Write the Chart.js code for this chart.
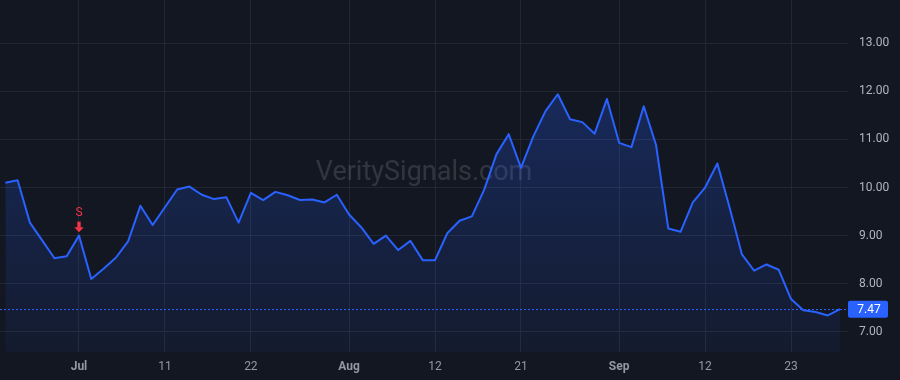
<!doctype html>
<html lang="en">
<head>
<meta charset="utf-8">
<style>
    body { margin: 0; background: #131722; }
    #wrap { width: 900px; height: 380px; position: relative; }
</style>
</head>
<body>
    <div id="wrap">
        <canvas id="myChart"></canvas>
    </div>

    <script src="https://cdn.jsdelivr.net/npm/chart.js"></script>

    <script>
    // trading days, Jun 21 -> Sep 27
    const dates = [
        '2024-06-21', '2024-06-24', '2024-06-25', '2024-06-26', '2024-06-27', '2024-06-28',
        '2024-07-01', '2024-07-02', '2024-07-03', '2024-07-05', '2024-07-08', '2024-07-09',
        '2024-07-10', '2024-07-11', '2024-07-12', '2024-07-15', '2024-07-16', '2024-07-17',
        '2024-07-18', '2024-07-19', '2024-07-22', '2024-07-23', '2024-07-24', '2024-07-25',
        '2024-07-26', '2024-07-29', '2024-07-30', '2024-07-31',
        '2024-08-01', '2024-08-02', '2024-08-05', '2024-08-06', '2024-08-07', '2024-08-08',
        '2024-08-09', '2024-08-12', '2024-08-13', '2024-08-14', '2024-08-15', '2024-08-16',
        '2024-08-19', '2024-08-20', '2024-08-21', '2024-08-22', '2024-08-23', '2024-08-26',
        '2024-08-27', '2024-08-28', '2024-08-29', '2024-08-30',
        '2024-09-03', '2024-09-04', '2024-09-05', '2024-09-06', '2024-09-09', '2024-09-10',
        '2024-09-11', '2024-09-12', '2024-09-13', '2024-09-16', '2024-09-17', '2024-09-18',
        '2024-09-19', '2024-09-20', '2024-09-23', '2024-09-24', '2024-09-25', '2024-09-26',
        '2024-09-27'
    ];

    const prices = [
        10.10, 10.15, 9.27, 8.90, 8.53, 8.57,
        9.00, 8.10, 8.31, 8.54, 8.88, 9.62,
        9.22, 9.59, 9.96, 10.02, 9.85, 9.76,
        9.80, 9.27, 9.89, 9.74, 9.91, 9.84,
        9.74, 9.75, 9.69, 9.85,
        9.44, 9.17, 8.83, 9.00, 8.70, 8.89,
        8.49, 8.49, 9.05, 9.31, 9.40, 9.95,
        10.69, 11.11, 10.41, 11.06, 11.59, 11.94,
        11.42, 11.36, 11.12, 11.84,
        10.93, 10.84, 11.69, 10.89, 9.15, 9.08,
        9.69, 10.00, 10.50, 9.58, 8.61, 8.27,
        8.40, 8.29, 7.68, 7.45, 7.41, 7.34,
        7.47
    ];

    const xTickDates = ['2024-07-01', '2024-07-11', '2024-07-22', '2024-08-01', '2024-08-12',
                        '2024-08-21', '2024-09-03', '2024-09-12', '2024-09-23'];
    const xTickLabels = ['Jul', '11', '22', 'Aug', '12', '21', 'Sep', '12', '23'];
    const monthLabels = ['Jul', 'Aug', 'Sep'];

    const yTicks = [7, 8, 9, 10, 11, 12, 13];

    const signalDates = ['2024-07-01'];
    const signalTypes = ['S'];

    const BLUE = '#2962ff';
    const GRID = '#232733';
    const FONT = 'Roboto, "Liberation Sans", sans-serif';

    const xTickIdx = xTickDates.map(d => dates.indexOf(d));

    // watermark, signal arrows, last price tag
    const overlay = {
        id: 'overlay',
        beforeDatasetsDraw(chart) {
            const { ctx, chartArea } = chart;
            ctx.save();
            ctx.font = '27px ' + FONT;
            ctx.fillStyle = 'rgba(255,255,255,0.13)';
            ctx.textAlign = 'center';
            ctx.textBaseline = 'middle';
            ctx.fillText('VeritySignals.com', (chartArea.left + chartArea.right) / 2, 173);
            ctx.restore();
        },
        afterDatasetsDraw(chart) {
            const { ctx, chartArea } = chart;
            const xs = chart.scales.x, ys = chart.scales.y;
            ctx.save();

            // signals
            signalDates.forEach((d, k) => {
                const i = dates.indexOf(d);
                const px = xs.getPixelForValue(i);
                const py = ys.getPixelForValue(prices[i]);
                ctx.fillStyle = '#f23645';
                ctx.font = '12px ' + FONT;
                ctx.textAlign = 'center';
                ctx.textBaseline = 'middle';
                ctx.fillText(signalTypes[k], px, py - 23);
                ctx.fillRect(px - 1.7, py - 14, 3.4, 6);
                ctx.beginPath();
                ctx.moveTo(px - 4.7, py - 8.5);
                ctx.lineTo(px + 4.7, py - 8.5);
                ctx.lineTo(px, py - 3.5);
                ctx.closePath();
                ctx.fill();
            });

            // last price line
            const last = prices[prices.length - 1];
            const ly = Math.round(ys.getPixelForValue(last)) + 0.5;
            ctx.strokeStyle = BLUE;
            ctx.lineWidth = 1;
            ctx.setLineDash([2, 2]);
            ctx.beginPath();
            ctx.moveTo(chartArea.left, ly);
            ctx.lineTo(chartArea.right, ly);
            ctx.stroke();
            ctx.setLineDash([]);
            ctx.restore();
        },
        afterDraw(chart) {
            const { ctx, chartArea } = chart;
            const ys = chart.scales.y;
            const last = prices[prices.length - 1];
            const ly = ys.getPixelForValue(last);
            ctx.save();
            ctx.fillStyle = BLUE;
            ctx.beginPath();
            ctx.roundRect(chartArea.right, ly - 8.5, 40, 17, 2);
            ctx.fill();
            ctx.fillStyle = '#ffffff';
            ctx.font = '12px ' + FONT;
            ctx.textAlign = 'center';
            ctx.textBaseline = 'middle';
            ctx.fillText(last.toFixed(2), chartArea.right + 21, ly + 0.5);
            ctx.restore();
        }
    };

    const ctx = document.getElementById('myChart');

    new Chart(ctx, {
        type: 'line',
        data: {
            datasets: [{
                data: prices.map((v, i) => ({ x: i, y: v })),
                borderColor: BLUE,
                borderWidth: 2,
                borderJoinStyle: 'round',
                pointRadius: 0,
                tension: 0,
                fill: 'start',
                backgroundColor: (c) => {
                    const area = c.chart.chartArea;
                    if (!area) return 'rgba(41,98,255,0.15)';
                    const g = c.chart.ctx.createLinearGradient(0, area.top + 90, 0, area.bottom);
                    g.addColorStop(0, 'rgba(41,98,255,0.26)');
                    g.addColorStop(1, 'rgba(41,98,255,0.06)');
                    return g;
                }
            }]
        },
        options: {
            responsive: true,
            maintainAspectRatio: false,
            animation: false,
            layout: { padding: 0 },
            plugins: {
                legend: { display: false },
                tooltip: { enabled: false }
            },
            scales: {
                x: {
                    type: 'linear',
                    min: -0.435,
                    max: 68.64,
                    afterBuildTicks: (scale) => {
                        scale.ticks = xTickIdx.map(v => ({ value: v }));
                    },
                    afterFit: (scale) => {
                        scale.height = 28;
                        scale.paddingLeft = 0;
                        scale.paddingRight = 0;
                    },
                    grid: { color: GRID, drawTicks: false },
                    border: { display: false },
                    ticks: {
                        autoSkip: false,
                        maxRotation: 0,
                        padding: 8,
                        color: '#9598a1',
                        callback: (v) => xTickLabels[xTickIdx.indexOf(v)],
                        font: (c) => ({
                            family: FONT,
                            size: 12,
                            weight: c.tick && monthLabels.includes(c.tick.label) ? 'bold' : 'normal'
                        })
                    }
                },
                y: {
                    position: 'right',
                    min: 6.58,
                    max: 13.90,
                    afterBuildTicks: (scale) => {
                        scale.ticks = yTicks.map(v => ({ value: v }));
                    },
                    afterFit: (scale) => {
                        scale.width = 52;
                        scale.paddingTop = 0;
                        scale.paddingBottom = 0;
                    },
                    grid: { color: GRID, drawTicks: false },
                    border: { display: false },
                    ticks: {
                        padding: 11,
                        color: '#b2b5be',
                        font: { family: FONT, size: 12 },
                        callback: (v) => v.toFixed(2)
                    }
                }
            }
        },
        plugins: [overlay]
    });
    </script>
</body>
</html>
